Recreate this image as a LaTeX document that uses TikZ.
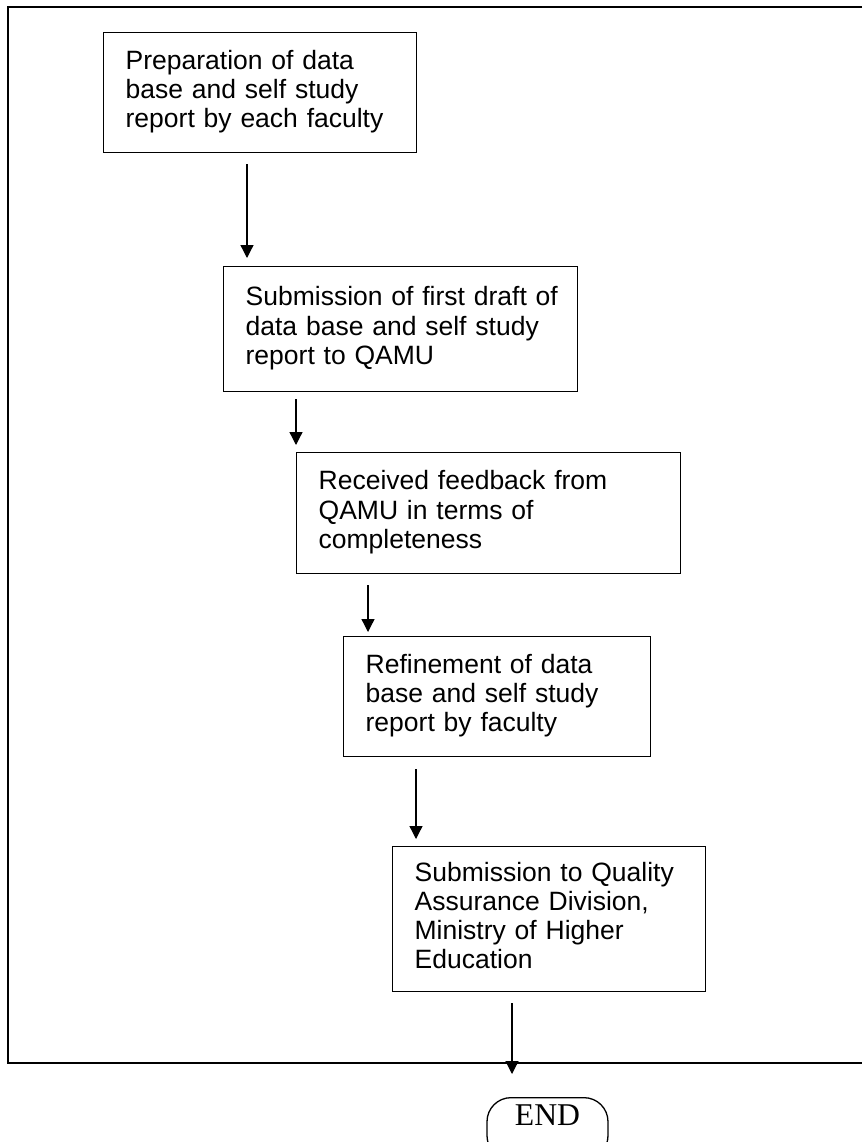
\documentclass[tikz,border=0pt]{standalone}
\usepackage{fontspec}
\setmainfont{Liberation Sans}
\newfontfamily\endfont{Liberation Serif}
\usetikzlibrary{arrows.meta}
\begin{document}
\begin{tikzpicture}[x=1pt,y=-1pt,
  stepbox/.style={draw,line width=1.3pt,anchor=north west,inner xsep=22pt,inner ysep=0pt,
    align=left,font=\fontsize{26.5}{29.3}\selectfont,
    execute at begin node=\strut,execute at end node=\strut},
  arr/.style={line width=1.3pt,-{Triangle[length=13pt,width=13pt]}},
  frameline/.style={line width=2pt},
  endbox/.style={draw,line width=1.3pt,rounded corners=24pt,minimum width=121pt,
    text height=21pt,text depth=27pt,inner ysep=7pt,anchor=north,
    font=\endfont\fontsize{31.7}{36}\selectfont}]
\clip (0,0) rectangle (862,1142);
\fill[white] (0,0) rectangle (862,1142);
\draw[frameline] (862,7) -- (8,7) -- (8,1063) -- (862,1063);

\node[stepbox,text width=269pt,minimum height=120pt] (b1) at (103,32)
  {Preparation of data\\base and self study\\report by each faculty};
\node[stepbox,text width=310pt,minimum height=125pt] (b2) at (223,266)
  {\mbox{Submission of first draft of}\\data base and self study\\report to QAMU};
\node[stepbox,text width=340pt,minimum height=121pt] (b3) at (296,452)
  {Received feedback from\\QAMU in terms of\\completeness};
\node[stepbox,text width=263pt,minimum height=120pt] (b4) at (343,636)
  {Refinement of data\\base and self study\\report by faculty};
\node[stepbox,text width=269pt,minimum height=145pt] (b5) at (392,846)
  {Submission to Quality\\Assurance Division,\\Ministry of Higher\\Education};
\node[endbox] (end) at (547.5,1097) {END};

\coordinate (x1) at (247,0);
\coordinate (x2) at (296,0);
\coordinate (x3) at (368,0);
\coordinate (x4) at (416,0);
\coordinate (x5) at (512,0);
\draw[arr,shorten <=11pt,shorten >=8pt] (b1.south -| x1) -- (b2.north -| x1);
\draw[arr,shorten <=7pt,shorten >=7pt] (b2.south -| x2) -- (b3.north -| x2);
\draw[arr,shorten <=11pt,shorten >=4pt] (b3.south -| x3) -- (b4.north -| x3);
\draw[arr,shorten <=12pt,shorten >=7pt] (b4.south -| x4) -- (b5.north -| x4);
\draw[arr,shorten <=11pt,shorten >=23pt] (b5.south -| x5) -- (end.north -| x5);
\end{tikzpicture}
\end{document}
